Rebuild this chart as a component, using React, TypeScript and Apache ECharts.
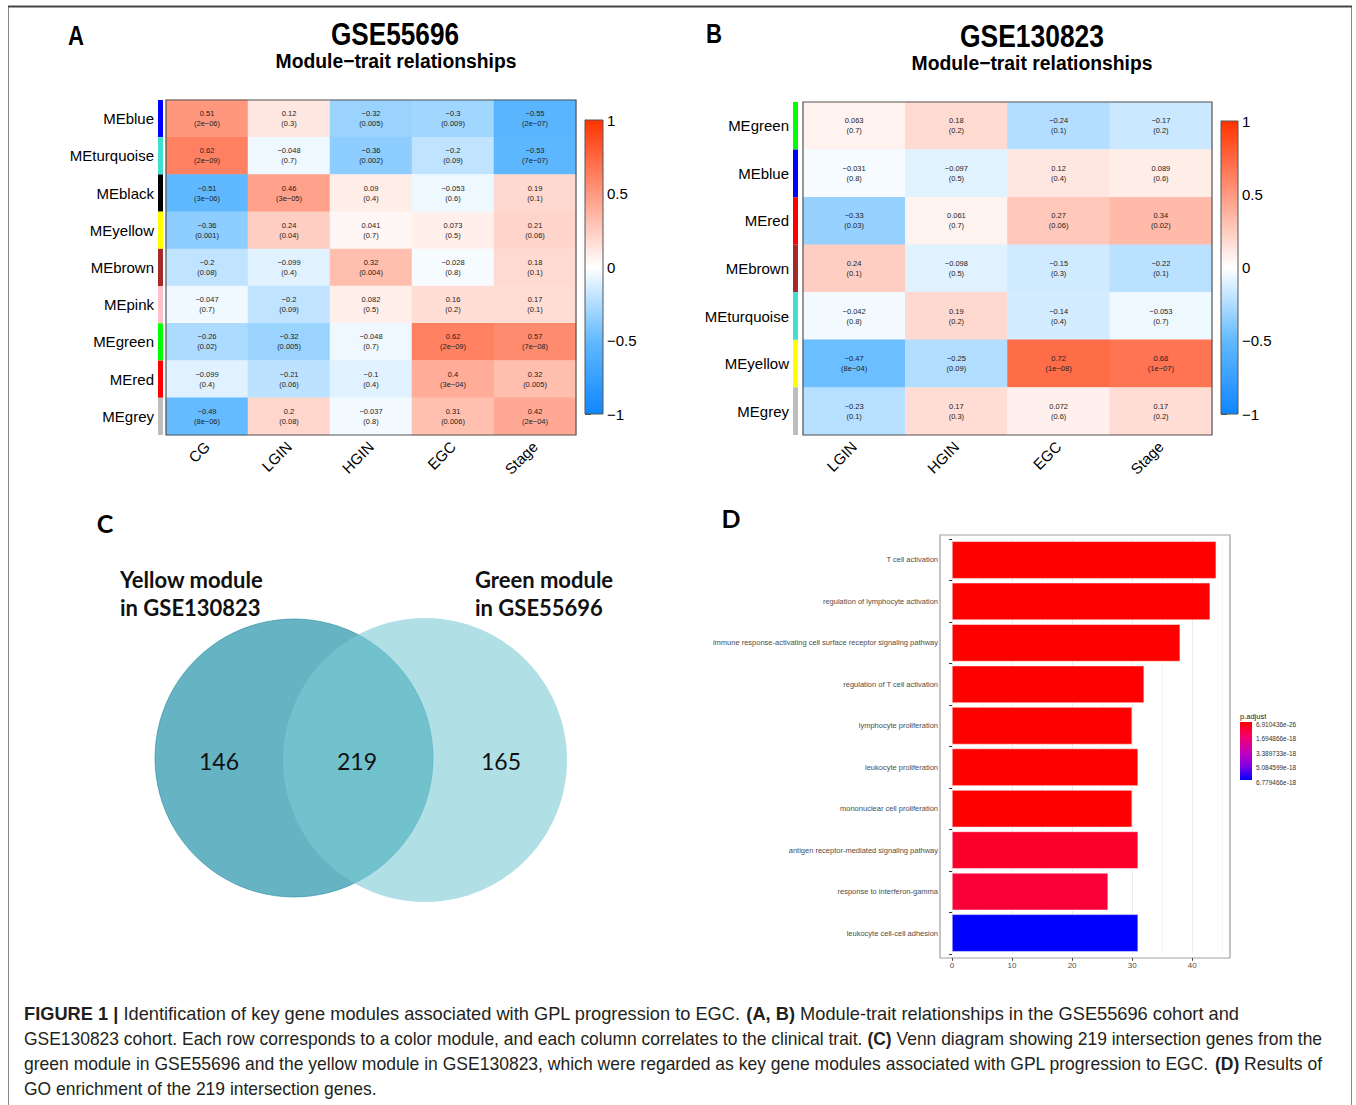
import React, { useEffect, useRef } from "react";
import * as echarts from "echarts";

// ---------- Panel A data (GSE55696) ----------
const traitsA = ["CG", "LGIN", "HGIN", "EGC", "Stage"];
const modulesA = ["MEblue", "MEturquoise", "MEblack", "MEyellow", "MEbrown", "MEpink", "MEgreen", "MEred", "MEgrey"];
const corA = [
  [0.51, 0.12, -0.32, -0.3, -0.55],
  [0.62, -0.048, -0.36, -0.2, -0.53],
  [-0.51, 0.46, 0.09, -0.053, 0.19],
  [-0.36, 0.24, 0.041, 0.073, 0.21],
  [-0.2, -0.099, 0.32, -0.028, 0.18],
  [-0.047, -0.2, 0.082, 0.16, 0.17],
  [-0.26, -0.32, -0.048, 0.62, 0.57],
  [-0.099, -0.21, -0.1, 0.4, 0.32],
  [-0.49, 0.2, -0.037, 0.31, 0.42],
];
const pA = [
  ["2e-06", "0.3", "0.005", "0.009", "2e-07"],
  ["2e-09", "0.7", "0.002", "0.09", "7e-07"],
  ["3e-06", "3e-05", "0.4", "0.6", "0.1"],
  ["0.001", "0.04", "0.7", "0.5", "0.06"],
  ["0.08", "0.4", "0.004", "0.8", "0.1"],
  ["0.7", "0.09", "0.5", "0.2", "0.1"],
  ["0.02", "0.005", "0.7", "2e-09", "7e-08"],
  ["0.4", "0.06", "0.4", "3e-04", "0.005"],
  ["8e-06", "0.08", "0.8", "0.006", "2e-04"],
];

// ---------- Panel B data (GSE130823) ----------
const traitsB = ["LGIN", "HGIN", "EGC", "Stage"];
const modulesB = ["MEgreen", "MEblue", "MEred", "MEbrown", "MEturquoise", "MEyellow", "MEgrey"];
const corB = [
  [0.063, 0.18, -0.24, -0.17],
  [-0.031, -0.097, 0.12, 0.089],
  [-0.33, 0.061, 0.27, 0.34],
  [0.24, -0.098, -0.15, -0.22],
  [-0.042, 0.19, -0.14, -0.053],
  [-0.47, -0.25, 0.72, 0.68],
  [-0.23, 0.17, 0.072, 0.17],
];
const pB = [
  ["0.7", "0.2", "0.1", "0.2"],
  ["0.8", "0.5", "0.4", "0.6"],
  ["0.03", "0.7", "0.06", "0.02"],
  ["0.1", "0.5", "0.3", "0.1"],
  ["0.8", "0.2", "0.4", "0.7"],
  ["8e-04", "0.09", "1e-08", "1e-07"],
  ["0.1", "0.3", "0.6", "0.2"],
];

const moduleColors: Record<string, string> = {
  MEblue: "#0000ff",
  MEturquoise: "#40e0d0",
  MEblack: "#000000",
  MEyellow: "#ffff00",
  MEbrown: "#a52a2a",
  MEpink: "#ffc0cb",
  MEgreen: "#00ff00",
  MEred: "#ff0000",
  MEgrey: "#bebebe",
};
const heatColors = ["#0f86ff", "#62baff", "#ffffff", "#ff9980", "#ff3300"];

// ---------- Panel C data (Venn) ----------
const vennSetLabels = [["Yellow module", "in GSE130823"], ["Green module", "in GSE55696"]];
const vennCounts = [146, 219, 165];

// ---------- Panel D data (GO enrichment) ----------
const goTerms = [
  "T cell activation",
  "regulation of lymphocyte activation",
  "immune response-activating cell surface receptor signaling pathway",
  "regulation of T cell activation",
  "lymphocyte proliferation",
  "leukocyte proliferation",
  "mononuclear cell proliferation",
  "antigen receptor-mediated signaling pathway",
  "response to interferon-gamma",
  "leukocyte cell-cell adhesion",
];
const goCounts = [44, 43, 38, 32, 30, 31, 30, 31, 26, 31];
const goPAdjust = [6.910436e-26, 1.2e-24, 3.5e-22, 2.1e-21, 8.0e-21, 9.5e-21, 8.0e-21, 6.5e-19, 8.6e-19, 6.779466e-18];
const pLegendTicks = ["6.910436e-26", "1.694866e-18", "3.389733e-18", "5.084599e-18", "6.779466e-18"];
const pColors = ["#ff0000", "#f3006e", "#c900b5", "#8600e3", "#0000ff"];

// ---------- Caption ----------
const captionLines = [
  "{b|FIGURE 1 |} Identification of key gene modules associated with GPL progression to EGC. {b|(A, B)} Module-trait relationships in the GSE55696 cohort and",
  "GSE130823 cohort. Each row corresponds to a color module, and each column correlates to the clinical trait. {b|(C)} Venn diagram showing 219 intersection genes from the",
  "green module in GSE55696 and the yellow module in GSE130823, which were regarded as key gene modules associated with GPL progression to EGC. {b|(D)} Results of",
  "GO enrichment of the 219 intersection genes.",
];
const captionTargetWidths = [1216, 1298, 1298, 0];

const ARIAL = "'Liberation Sans', Arial, sans-serif";
const CAL = "Lato, 'Open Sans', sans-serif";

const fmt = (x: number | string) => String(x).replace("-", "\u2212");

let measureCtx: CanvasRenderingContext2D | null = null;
function measure(text: string, size: number, weight: string) {
  if (!measureCtx) measureCtx = document.createElement("canvas").getContext("2d");
  if (!measureCtx) return text.length * size * 0.5;
  measureCtx.font = `${weight} ${size}px 'Liberation Sans', Arial, sans-serif`;
  return measureCtx.measureText(text).width;
}
function measureRich(line: string, size: number) {
  let w = 0;
  const re = /\{b\|([^}]*)\}/g;
  let last = 0;
  let m: RegExpExecArray | null;
  while ((m = re.exec(line))) {
    w += measure(line.slice(last, m.index), size, "normal");
    w += measure(m[1], size, "bold");
    last = m.index + m[0].length;
  }
  w += measure(line.slice(last), size, "normal");
  return w;
}

// layout
const L = {
  heatA: { left: 166, top: 100, width: 410, height: 335 },
  sideA: { left: 158, top: 100, width: 5, height: 335 },
  cbarA: { left: 585, top: 120, width: 18, height: 294 },
  heatB: { left: 803, top: 102, width: 409, height: 333 },
  sideB: { left: 793, top: 102, width: 5, height: 333 },
  cbarB: { left: 1221, top: 121, width: 17, height: 293 },
  barD: { left: 952, top: 539.25, width: 278, height: 414.5 },
  panelD: { x: 940, y: 535, w: 290, h: 423 },
};

function heatData(cor: number[][]) {
  const d: number[][] = [];
  cor.forEach((row, r) => row.forEach((v, c) => d.push([c, r, v])));
  return d;
}

function gradientFill(colors: string[]) {
  const rev = [...colors].reverse();
  return {
    type: "linear",
    x: 0,
    y: 0,
    x2: 0,
    y2: 1,
    colorStops: rev.map((c, i) => ({ offset: i / (rev.length - 1), color: c })),
  };
}

function valueAxisHidden(gridIndex: number) {
  return { type: "value", gridIndex, min: 0, max: 1, show: false };
}

function colorbarAxis(gridIndex: number) {
  return {
    type: "value",
    gridIndex,
    min: -1,
    max: 1,
    interval: 0.5,
    position: "right",
    axisLine: { show: true, lineStyle: { color: "#555", width: 1 } },
    axisTick: { show: true, length: 6, lineStyle: { color: "#555" } },
    splitLine: { show: false },
    axisLabel: {
      fontSize: 15,
      color: "#000",
      fontFamily: ARIAL,
      margin: 4,
      formatter: (v: number) => fmt(v),
    },
  };
}

function heatXAxis(gridIndex: number, cats: string[]) {
  return {
    type: "category",
    gridIndex,
    data: cats,
    position: "bottom",
    axisLine: { show: false },
    axisTick: { show: false },
    splitLine: { show: false },
    axisLabel: { rotate: 45, fontSize: 15, color: "#000", fontFamily: ARIAL, margin: 9, interval: 0 },
  };
}

function heatYAxis(gridIndex: number, cats: string[]) {
  return {
    type: "category",
    gridIndex,
    data: cats,
    inverse: true,
    axisLine: { show: false },
    axisTick: { show: false },
    axisLabel: { show: false },
    splitLine: { show: false },
  };
}

function sideYAxis(gridIndex: number, cats: string[]) {
  return {
    type: "category",
    gridIndex,
    data: cats,
    inverse: true,
    axisLine: { show: false },
    axisTick: { show: false },
    splitLine: { show: false },
    axisLabel: { fontSize: 15, color: "#000", fontFamily: ARIAL, margin: 4, interval: 0 },
  };
}

function heatSeries(axisIndex: number, cor: number[][], p: string[][]) {
  return {
    type: "heatmap",
    xAxisIndex: axisIndex,
    yAxisIndex: axisIndex,
    data: heatData(cor),
    emphasis: { disabled: true },
    label: {
      show: true,
      fontSize: 7.5,
      lineHeight: 10,
      color: "#222",
      fontFamily: ARIAL,
      formatter: (prm: any) => {
        const c = prm.data[0];
        const r = prm.data[1];
        return fmt(cor[r][c]) + "\n(" + fmt(p[r][c]) + ")";
      },
    },
  };
}

function sideSeries(axisIndex: number, mods: string[]) {
  return {
    type: "bar",
    xAxisIndex: axisIndex,
    yAxisIndex: axisIndex,
    barCategoryGap: "0%",
    data: mods.map((m) => ({ value: 1, itemStyle: { color: moduleColors[m] } })),
    silent: true,
  };
}

function buildGraphic() {
  const g: any[] = [];
  // outer frame
  g.push({ type: "rect", shape: { x: 8.5, y: 6.5, width: 1343, height: 1105 }, style: { fill: "none", stroke: "#8a8a8a", lineWidth: 1 }, z: 20 });
  g.push({ type: "line", shape: { x1: 8, y1: 6.5, x2: 1352, y2: 6.5 }, style: { stroke: "#444", lineWidth: 2 }, z: 21 });

  const txt = (text: string, x: number, y: number, font: any, align = "center", scaleX = 1) => ({
    type: "text",
    x,
    y,
    z: 30,
    scaleX,
    style: {
      text,
      fill: font.color || "#000",
      fontSize: font.size,
      fontWeight: font.weight || "normal",
      fontFamily: font.family,
      textAlign: align,
      textVerticalAlign: "middle",
      align,
      verticalAlign: "middle",
    },
  });
  // narrow bold text fitted to a target width
  const narrow = (text: string, x: number, y: number, size: number, target: number) => {
    const w = measure(text, size, "bold");
    return txt(text, x, y, { size, weight: "bold", family: ARIAL }, "center", target / w);
  };

  // Panel letters and titles
  g.push(txt("A", 76, 36, { size: 27, weight: "bold", family: ARIAL }, "center", 0.82));
  g.push(narrow("GSE55696", 395, 34, 32, 128));
  g.push(narrow("Module\u2212trait relationships", 396, 61, 20, 241));
  g.push(txt("B", 714, 34, { size: 27, weight: "bold", family: ARIAL }, "center", 0.82));
  g.push(narrow("GSE130823", 1032, 36, 32, 144));
  g.push(narrow("Module\u2212trait relationships", 1032, 63, 20, 241));

  // heatmap borders
  for (const k of ["heatA", "heatB"] as const) {
    const b = (L as any)[k];
    g.push({ type: "rect", z: 25, shape: { x: b.left, y: b.top, width: b.width, height: b.height }, style: { fill: "none", stroke: "#555", lineWidth: 1.2 } });
  }
  // colorbars
  for (const k of ["cbarA", "cbarB"] as const) {
    const b = (L as any)[k];
    g.push({ type: "rect", z: 1, shape: { x: b.left, y: b.top, width: b.width, height: b.height }, style: { fill: gradientFill(heatColors), stroke: "#555", lineWidth: 1 } });
  }

  // Panel C: Venn
  g.push(txt("C", 105, 523, { size: 25, weight: "bold", family: CAL }));
  g.push({ type: "circle", z: 5, shape: { cx: 294, cy: 758, r: 139 }, style: { fill: "#65b3c3", stroke: "rgba(40,140,160,0.6)", lineWidth: 1 } });
  g.push({ type: "circle", z: 6, shape: { cx: 425, cy: 760, r: 142 }, style: { fill: "rgba(123,203,213,0.6)", stroke: "none" } });
  vennSetLabels[0].forEach((t, i) => g.push(txt(t, 120, 579 + i * 28, { size: 22, weight: "bold", family: CAL, color: "#111" }, "left")));
  vennSetLabels[1].forEach((t, i) => g.push(txt(t, 475, 579 + i * 28, { size: 22, weight: "bold", family: CAL, color: "#111" }, "left")));
  const numPos = [219, 357, 501];
  vennCounts.forEach((n, i) => g.push(txt(String(n), numPos[i], 761, { size: 23, family: CAL, color: "#111" })));

  // Panel D
  g.push(txt("D", 731, 518, { size: 25, weight: "bold", family: CAL }));
  const pd = L.panelD;
  g.push({ type: "rect", z: 25, shape: { x: pd.x, y: pd.y, width: pd.w, height: pd.h }, style: { fill: "none", stroke: "#a0a0a0", lineWidth: 1.2 } });
  // legend
  const lg = { x: 1240, y: 722, w: 12, h: 58 };
  g.push(txt("p.adjust", lg.x, 716, { size: 7.5, family: ARIAL, color: "#222" }, "left"));
  g.push({ type: "rect", z: 5, shape: { x: lg.x, y: lg.y, width: lg.w, height: lg.h }, style: { fill: { type: "linear", x: 0, y: 0, x2: 0, y2: 1, colorStops: pColors.map((c, i) => ({ offset: i / (pColors.length - 1), color: c })) } } });
  const pmin = Number(pLegendTicks[0]);
  const pmax = Number(pLegendTicks[pLegendTicks.length - 1]);
  pLegendTicks.forEach((t) => {
    const yy = lg.y + ((Number(t) - pmin) / (pmax - pmin)) * lg.h;
    g.push(txt(t, lg.x + 16, yy + 2, { size: 6.5, family: ARIAL, color: "#333" }, "left"));
  });

  // Caption
  const capSize = 18;
  const scales = captionLines.map((line, i) =>
    captionTargetWidths[i] > 0 ? captionTargetWidths[i] / measureRich(line.replace(/\{b\|/g, "{b|"), capSize) : 0
  );
  const avgScale = (scales[1] + scales[2]) / 2;
  captionLines.forEach((line, i) => {
    g.push({
      type: "text",
      x: 24,
      y: 1014 + i * 25,
      z: 30,
      scaleX: scales[i] > 0 ? scales[i] : avgScale,
      style: {
        text: line,
        fill: "#231f20",
        fontSize: capSize,
        fontFamily: ARIAL,
        textVerticalAlign: "middle",
        verticalAlign: "middle",
        rich: { b: { fontWeight: "bold", fontSize: capSize, fontFamily: ARIAL, fill: "#231f20" } },
      },
    });
  });
  return g;
}

export default function App() {
  const ref = useRef<HTMLDivElement>(null);
  useEffect(() => {
    if (!ref.current) return;
    const chart = echarts.init(ref.current, undefined, { renderer: "svg" });
    const option: any = {
      animation: false,
      backgroundColor: "#ffffff",
      textStyle: { fontFamily: ARIAL },
      grid: [L.heatA, L.sideA, L.cbarA, L.heatB, L.sideB, L.cbarB, L.barD].map((gr) => ({ ...gr, containLabel: false })),
      xAxis: [
        heatXAxis(0, traitsA),
        valueAxisHidden(1),
        valueAxisHidden(2),
        heatXAxis(3, traitsB),
        valueAxisHidden(4),
        valueAxisHidden(5),
        {
          type: "value",
          gridIndex: 6,
          min: 0,
          max: 46.3,
          interval: 10,
          offset: 4,
          axisLine: { show: false },
          axisTick: { show: true, length: 3, lineStyle: { color: "#333" } },
          axisLabel: { fontSize: 8, color: "#4d4d4d", fontFamily: ARIAL, margin: 4, showMaxLabel: false },
          splitLine: { show: true, lineStyle: { color: "#ebebeb", width: 1 } },
          minorTick: { show: false, splitNumber: 2 },
          minorSplitLine: { show: true, lineStyle: { color: "#f4f4f4", width: 1 } },
        },
      ],
      yAxis: [
        heatYAxis(0, modulesA),
        sideYAxis(1, modulesA),
        colorbarAxis(2),
        heatYAxis(3, modulesB),
        sideYAxis(4, modulesB),
        colorbarAxis(5),
        {
          type: "category",
          gridIndex: 6,
          data: goTerms,
          inverse: true,
          offset: 12,
          axisLine: { show: false },
          axisTick: { show: true, length: 3, lineStyle: { color: "#333" } },
          splitLine: { show: false },
          axisLabel: { fontSize: 7.5, color: "#4d4d4d", fontFamily: ARIAL, margin: 2, interval: 0 },
        },
      ],
      visualMap: [
        { type: "continuous", show: false, seriesIndex: [0, 2], dimension: 2, min: -1, max: 1, inRange: { color: heatColors } },
        { type: "continuous", show: false, seriesIndex: 4, dimension: 2, min: Number(pLegendTicks[0]), max: Number(pLegendTicks[4]), inRange: { color: pColors } },
      ],
      series: [
        heatSeries(0, corA, pA),
        sideSeries(1, modulesA),
        heatSeries(3, corB, pB),
        sideSeries(4, modulesB),
        {
          type: "bar",
          xAxisIndex: 6,
          yAxisIndex: 6,
          barCategoryGap: "10%",
          encode: { x: 0, y: 1 },
          data: goTerms.map((t, i) => [goCounts[i], t, goPAdjust[i]]),
          itemStyle: { borderColor: "#ffffff", borderWidth: 0.5 },
          emphasis: { disabled: true },
        },
      ],
      graphic: buildGraphic(),
    };
    chart.setOption(option);
    return () => chart.dispose();
  }, []);
  return <div ref={ref} style={{ position: "absolute", left: 0, top: 0, width: 1356, height: 1105 }} />;
}
